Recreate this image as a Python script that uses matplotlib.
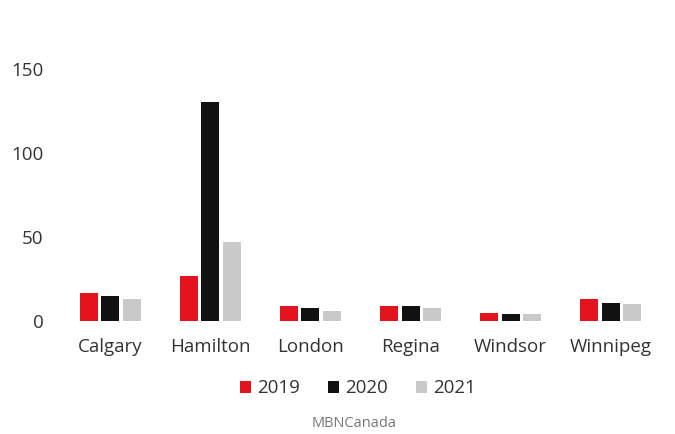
import matplotlib.pyplot as plt
import numpy as np

# ---
# DATA
# ---
cities = ["Calgary", "Hamilton", "London", "Regina", "Windsor", "Winnipeg"]
years = ["2019", "2020", "2021"]
v2019 = [17, 27, 9, 9, 5, 13]
v2020 = [15, 130, 8, 9, 4, 11]
v2021 = [13, 47, 6, 8, 4, 10]
colors = ["#e3141b", "#111111", "#c9c9c9"]

plt.rcParams["font.family"] = ["Open Sans", "DejaVu Sans"]

# ---
# PLOT
# ---
fig = plt.figure(figsize=(6.75, 4.34), dpi=100)
ax = fig.add_axes([0.089, 0.26, 0.89, 0.582])

x = np.arange(len(cities))
w = 0.18
gap = 0.215
for i, (vals, c, lab) in enumerate(zip([v2019, v2020, v2021], colors, years)):
    ax.bar(x + (i - 1) * gap, vals, width=w, color=c, label=lab)

ax.set_xlim(-0.5, len(cities) - 0.5)
ax.set_ylim(0, 150)
ax.set_yticks([0, 50, 100, 150])
ax.set_xticks(x)
ax.set_xticklabels(cities)
ax.tick_params(axis="both", length=0, labelsize=13.5, colors="#333333")
ax.tick_params(axis="x", pad=12)
ax.tick_params(axis="y", pad=12)
for s in ax.spines.values():
    s.set_visible(False)

leg = fig.legend(loc="center", bbox_to_anchor=(0.53, 0.105), ncol=3, frameon=False,
                 fontsize=13.5, handlelength=0.6, handleheight=0.6, handletextpad=0.3,
                 columnspacing=1.5, labelcolor="#333333")
fig.text(0.525, 0.025, "MBNCanada", ha="center", va="center", fontsize=10.5, color="#777777")

fig.savefig("out.png", dpi=100)
